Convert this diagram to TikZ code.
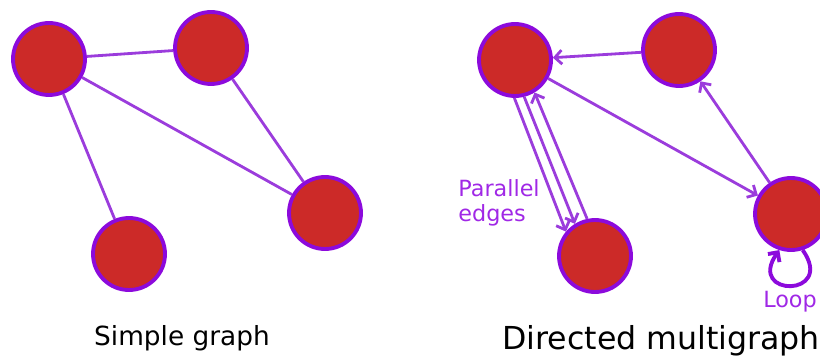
\documentclass[tikz,border=0pt]{standalone}
\usepackage{fontspec}
\setmainfont{DejaVu Sans}
\usetikzlibrary{arrows.meta}
\definecolor{vfill}{RGB}{204,42,40}
\definecolor{vline}{RGB}{140,10,220}
\definecolor{eline}{RGB}{155,60,220}
\definecolor{ltext}{RGB}{160,40,230}
\begin{document}
\begin{tikzpicture}[x=0.02cm, y=0.02cm,
    vertex/.style={draw=vline, fill=vfill, circle, line width=2.2pt, minimum size=1.44cm, inner sep=0pt},
    link/.style={draw=eline, line width=1.6pt},
    >={Straight Barb[length=4pt, width=8pt]},
    note/.style={text=ltext, font=\fontsize{12.7}{14}\selectfont, inner sep=0pt}]

    \useasboundingbox (0,0) rectangle (820,-361);

    % Simple graph
    \node (a) [vertex] at (49,-59) {};
    \node (b) [vertex] at (211,-48) {};
    \node (c) [vertex] at (325,-213) {};
    \node (d) [vertex] at (129,-254) {};
    \draw [link] (a) -- (b);
    \draw [link] (a) -- (d);
    \draw [link] (a) -- (c);
    \draw [link] (b) -- (c);
    \node (simple) [font=\fontsize{15}{18}\selectfont, inner sep=0pt] at (182,-338) {Simple graph};

    % Directed multigraph
    \node (e) [vertex] at (515,-60) {};
    \node (f) [vertex] at (679,-50) {};
    \node (g) [vertex] at (595,-256) {};
    \node (h) [vertex] at (791,-214) {};
    \draw [link, ->] (f) -- (e);
    \draw [link, ->] (e) -- (h);
    \draw [link, ->] (h) -- (f);
    \draw [link, ->] (e.-91) -- (g.140);
    \draw [link, ->] (e.-76) -- (g.122);
    \draw [link, ->] (g.102) -- (e.-59);
    \draw [draw=vline, line width=2.2pt, ->] (h.-72) .. controls +(-55:58) and +(-125:58) .. (h.-108);
    \node (parallel) [note, anchor=west, align=left] at (458,-203) {Parallel\\edges};
    \node (loop) [note] at (790,-302) {Loop};
    \node (directed) [font=\fontsize{18}{22}\selectfont, inner sep=0pt, anchor=west] at (502,-341) {Directed multigraph};

\end{tikzpicture}
\end{document}
